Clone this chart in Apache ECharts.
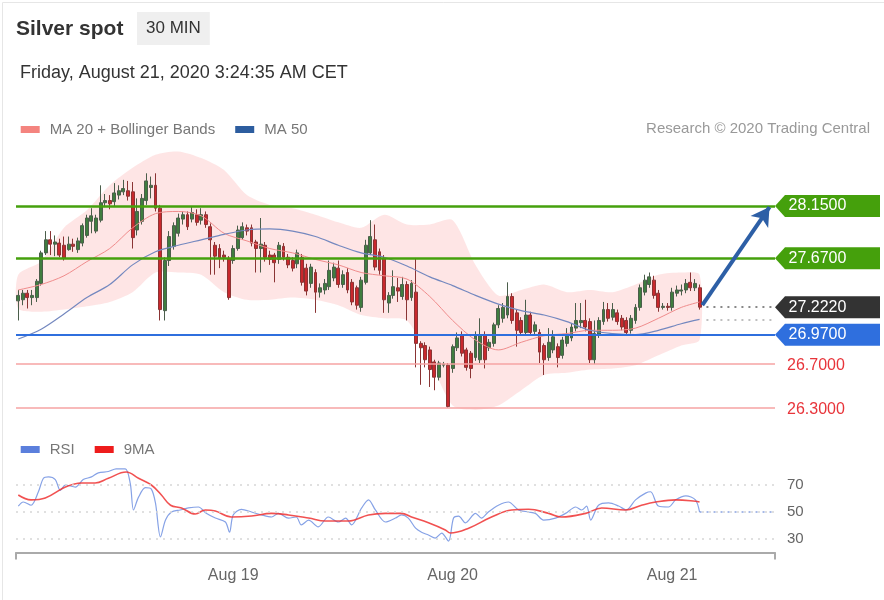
<!DOCTYPE html>
<html><head><meta charset="utf-8">
<script src="https://cdn.jsdelivr.net/npm/echarts@6/dist/echarts.min.js"></script>
<style>html,body{margin:0;padding:0;background:#fff}#c{width:884px;height:600px}</style>
</head><body><div id="c"></div>
<script>
// ---- candle data (30 min bars, Aug 18 00:30 -> Aug 21 03:00) ----
const opens=[27.28,27.29,27.35,27.31,27.31,27.44,27.72,27.84,27.80,27.81,27.79,27.75,27.80,27.75,27.81,27.88,28.01,27.92,28.02,28.18,28.20,28.19,28.25,28.28,28.29,28.28,27.93,28.01,28.20,28.32,28.34,28.13,27.19,27.65,27.78,27.90,28.03,28.07,28.03,28.07,28.02,28.07,27.96,27.79,27.76,27.70,27.67,27.65,27.76,27.86,27.95,27.95,27.82,27.76,27.79,27.70,27.70,27.66,27.78,27.68,27.65,27.62,27.68,27.58,27.44,27.54,27.36,27.38,27.41,27.49,27.58,27.43,27.54,27.45,27.40,27.22,27.45,27.72,27.84,27.73,27.67,27.26,27.33,27.40,27.32,27.43,27.31,27.36,26.89,26.87,26.83,26.72,26.58,26.69,26.69,26.66,26.85,26.97,26.83,26.80,26.76,26.74,26.97,26.85,26.89,27.06,27.12,27.15,27.32,27.17,27.10,26.99,27.15,27.00,26.99,26.87,26.76,26.83,26.86,26.78,26.89,26.94,27.03,27.08,27.10,27.09,26.74,26.97,27.09,27.20,27.13,27.17,27.12,27.10,27.01,27.10,27.22,27.36,27.43,27.47,27.35,27.22,27.23,27.22,27.35,27.37,27.38,27.45,27.40,27.40];
const closes=[27.33,27.35,27.31,27.33,27.46,27.72,27.84,27.80,27.82,27.70,27.67,27.80,27.78,27.83,27.97,28.04,28.06,28.04,28.18,28.20,28.17,28.27,28.29,28.31,28.24,27.86,28.10,28.22,28.38,28.34,28.13,27.20,27.65,27.87,27.97,28.04,28.07,27.96,28.09,28.00,28.07,27.98,27.84,27.69,27.67,27.68,27.31,27.76,27.93,27.96,27.92,27.81,27.76,27.80,27.68,27.66,27.63,27.79,27.68,27.61,27.58,27.72,27.45,27.37,27.59,27.36,27.40,27.44,27.56,27.59,27.43,27.52,27.38,27.27,27.24,27.47,27.79,27.87,27.59,27.56,27.29,27.33,27.41,27.37,27.43,27.29,27.44,26.89,26.85,26.74,26.65,26.58,26.71,26.70,26.31,26.86,26.94,26.80,26.67,26.66,26.97,26.97,26.74,26.90,27.06,27.21,27.22,27.32,27.10,27.01,26.99,27.15,26.99,27.06,26.81,26.74,26.90,26.95,26.76,26.92,26.97,27.04,27.10,27.10,27.04,26.74,26.98,27.10,27.20,27.12,27.20,27.09,27.04,26.99,27.12,27.22,27.40,27.47,27.50,27.33,27.22,27.23,27.22,27.36,27.38,27.38,27.44,27.40,27.44,27.222];
const lows=[27.10,27.24,27.21,27.24,27.27,27.42,27.70,27.70,27.69,27.68,27.65,27.74,27.73,27.72,27.78,27.86,27.90,27.90,28.00,28.14,28.12,28.15,28.21,28.25,28.20,27.76,27.88,27.98,28.16,28.22,28.10,27.10,27.10,27.60,27.75,27.87,27.98,27.93,28.00,27.97,27.98,27.95,27.52,27.52,27.58,27.64,27.29,27.62,27.74,27.84,27.88,27.78,27.54,27.54,27.64,27.61,27.45,27.62,27.65,27.58,27.55,27.58,27.42,27.33,27.40,27.17,27.31,27.34,27.38,27.46,27.40,27.40,27.35,27.24,27.20,27.18,27.43,27.70,27.56,27.52,27.17,27.17,27.30,27.27,27.29,27.10,27.28,26.67,26.51,26.67,26.49,26.46,26.55,26.67,26.30,26.62,26.82,26.77,26.64,26.57,26.73,26.71,26.66,26.82,26.86,27.03,27.08,27.12,27.07,26.86,26.96,26.96,26.96,26.96,26.71,26.60,26.73,26.80,26.67,26.75,26.86,26.91,27.00,27.03,27.00,26.71,26.70,26.94,27.06,27.09,27.10,27.06,27.01,26.96,26.98,27.07,27.19,27.33,27.40,27.30,27.18,27.20,27.19,27.19,27.32,27.33,27.35,27.37,27.37,27.20];
const highs=[27.38,27.38,27.38,27.38,27.48,27.74,27.92,27.92,27.88,27.85,27.87,27.87,27.85,27.86,27.99,28.07,28.13,28.07,28.34,28.26,28.25,28.36,28.34,28.39,28.38,28.37,28.22,28.26,28.45,28.42,28.45,28.16,27.68,27.92,28.00,28.08,28.10,28.10,28.14,28.12,28.13,28.10,27.99,27.82,27.80,27.74,27.69,27.79,27.97,28.00,27.98,27.98,27.84,28.04,27.82,27.74,27.72,27.82,27.81,27.71,27.68,27.75,27.71,27.62,27.62,27.57,27.44,27.48,27.65,27.63,27.65,27.56,27.58,27.48,27.42,27.50,27.84,28.02,27.98,27.76,27.70,27.36,27.56,27.49,27.50,27.46,27.47,27.67,26.91,26.90,26.86,26.74,26.73,26.72,26.71,26.88,26.99,27.00,26.85,26.82,27.00,27.12,27.00,26.93,27.08,27.24,27.26,27.45,27.35,27.20,27.13,27.29,27.18,27.09,27.02,26.89,27.03,27.01,26.89,26.95,27.03,27.07,27.26,27.26,27.29,27.12,27.10,27.13,27.27,27.26,27.26,27.20,27.15,27.13,27.15,27.25,27.43,27.52,27.54,27.51,27.38,27.26,27.26,27.40,27.42,27.43,27.48,27.54,27.48,27.43];

// ---- indicators (x = bar index) ----
const bandIdx=[0,5,10,15,20,25,30,35,40,45,50,55,60,65,70,75,80,85,90,95,100,105,110,115,120,125,130,135,140,145,149];
const ma20=[27.38,27.43,27.51,27.64,27.76,27.95,28.08,28.10,28.06,27.90,27.83,27.76,27.72,27.66,27.61,27.54,27.51,27.48,27.32,27.10,26.92,26.83,26.90,26.96,26.98,27.01,27.01,27.03,27.12,27.22,27.27];
const ma50=[26.93,27.02,27.16,27.31,27.43,27.61,27.73,27.79,27.84,27.89,27.93,27.94,27.92,27.87,27.79,27.72,27.68,27.60,27.50,27.42,27.33,27.25,27.19,27.15,27.09,27.01,26.98,26.97,27.01,27.07,27.11];
const bbUpper=[27.52,27.64,27.95,28.11,28.34,28.50,28.62,28.65,28.59,28.48,28.25,28.16,28.13,28.07,28.00,27.95,28.07,27.98,27.98,28.02,27.61,27.33,27.38,27.43,27.36,27.38,27.36,27.43,27.52,27.54,27.52];
const bbLower=[27.21,27.18,27.20,27.23,27.27,27.36,27.54,27.54,27.52,27.36,27.29,27.29,27.31,27.29,27.24,27.15,27.12,27.10,26.74,26.32,26.28,26.32,26.46,26.60,26.62,26.65,26.66,26.69,26.78,26.87,26.92];

const rsiIdx=[0,1.1,2.8,4.4,5.5,6.6,8.1,9.2,10.3,12.5,14.2,16,17.5,19.7,21.4,23.4,24.5,25.2,26.3,27.8,29.1,30,31.1,32.2,33.5,35.4,37.2,39.4,41.1,43.1,45.3,46.2,47,48.8,51,53.2,55.4,56.9,59.1,60.8,61.9,63.5,65.6,67.8,70,71.6,72.9,75.1,76.6,78.1,80.3,82.5,83.8,85.3,86.9,88.2,89.7,91.2,92.6,94.1,95.2,96.3,97.8,100,101.3,102.8,105,107.2,109.4,111.6,113.1,114.9,117.5,119.7,121.9,123.2,124.3,125.2,126.9,129.1,131.3,133,135,137.2,138.3,140,142.2,143.8,146,148.1,149];
const rsiVal=[54.4,57.4,55,65,75,76,74,66,70,68.5,74,76,79,80,82,82,71,51.5,61,68,67,56.7,31.5,44,50,51.5,53,53.7,49,45.5,42.6,35,47.8,52,50,47.8,46.3,49,45.5,46.3,40.4,44,39,46.3,42.6,45.5,40.4,53,59,51.5,42.6,45.5,47.8,45.5,38,35,33,30.7,34.4,28.5,45.5,47,42,49,45.5,50,55,57.4,51.5,50,49,44,45.5,49,53.7,51.5,54.4,44,55,56.7,54.4,51.5,59,64,65,54.4,53.7,59,62,59,50];
const rsiMaIdx=[0,2.8,5.9,10.3,13.8,16.8,19.7,23.6,26.3,29.1,31.3,33.3,35.7,38.7,40.9,43.1,46.6,51,55.4,59.1,63.5,67.2,72.2,76.6,80.3,83.8,86,89.7,93.4,94.5,98.5,103.5,107.9,111.6,116,118.8,124.1,127.6,132.8,136.3,139.4,143.8,148.1,149];
const rsiMaVal=[62.6,59,60.4,68.5,71.5,71.5,75,79.6,75,70,62.6,55,53,48.5,51.5,50.7,46.3,47,49,47.8,45.5,43.3,43.3,47.8,49,49,46.3,42,36.7,34.4,38,46.3,51.5,52,49,46.3,49,53,51.5,55,57.4,59,58,57.4];

// ---- levels / annotations ----
const resistLevels=[28.15,27.67];
const supportLevel=26.97;
const lowerLevels=[26.70,26.30];
const lastPrice=27.222;
const arrowFrom=[149.6,27.24], arrowTo=[164.3,28.14];
const rsiLevels=[30,50,70];
const tickIdx=[47,95,143];
const tickLabels=['Aug 19','Aug 20','Aug 21'];
const N_SLOTS=166;

const cats=Array.from({length:N_SLOTS},(_,i)=>String(i));
const candles=opens.map((o,i)=>[o,closes[i],lows[i],highs[i]]);
const pair=(xs,ys)=>xs.map((x,i)=>[x,ys[i]]);
const lastIdx=opens.length-1;
const F='"Liberation Sans", Arial, sans-serif';
const GREEN='#45a00c', BLUE='#2f6fde', DARK='#333333', RED='#e8343a', PINKLINE='#f6a3a3';
const tagPath='path://M0,11 L10,0 L105,0 L105,22 L10,22 Z';
function tag(v,color){
  return {coord:[N_SLOTS-0.5,v],value:v,itemStyle:{color:color},
    label:{show:true,position:'inside',formatter:v.toFixed(4),color:'#fff',fontSize:16,fontFamily:F,offset:[-10,0]}};
}

const chart=echarts.init(document.getElementById('c'),null,{renderer:'canvas'});
chart.setOption({
  animation:false,
  backgroundColor:'#fff',
  textStyle:{fontFamily:F},
  graphic:[
    {type:'rect',left:0,top:0,shape:{width:883,height:599},style:{fill:'none',stroke:'#e6e6e6',lineWidth:1},silent:true},
    {type:'text',left:16,top:19,style:{text:'Silver spot',font:'bold 21px "Liberation Sans"',fill:'#333'}},
    {type:'text',left:137,top:12,style:{text:'30 MIN',font:'17px "Liberation Sans"',fill:'#333',backgroundColor:'#efefef',padding:[8,9,8,9]}},
    {type:'text',left:20,top:64,style:{text:'Friday, August 21, 2020 3:24:35 AM CET',font:'18px "Liberation Sans"',fill:'#333'}},
    {type:'text',right:14,top:121.5,style:{text:'Research \u00a9 2020 Trading Central',font:'15px "Liberation Sans"',fill:'#999'}}
  ],
  legend:[
    {left:20.7,top:122,padding:0,itemWidth:19,itemHeight:7,itemGap:20,icon:'rect',
     textStyle:{color:'#777',fontSize:15,fontFamily:F,padding:[0,0,0,5]},
     data:[{name:'MA 20 + Bollinger Bands',itemStyle:{color:'#f4847f'}},{name:'MA 50',itemStyle:{color:'#2d5d9f'}}]},
    {left:20.7,top:442,padding:0,itemWidth:19,itemHeight:7,itemGap:20,icon:'rect',
     textStyle:{color:'#777',fontSize:15,fontFamily:F,padding:[0,0,0,5]},
     data:[{name:'RSI',itemStyle:{color:'#5b7fdc'}},{name:'9MA',itemStyle:{color:'#ee1c1c'}}]}
  ],
  grid:[
    {left:16,width:759,top:140.6,height:278},
    {left:16,width:759,top:458,height:94.5}
  ],
  xAxis:[
    {type:'category',gridIndex:0,data:cats,show:false,boundaryGap:true},
    {type:'value',gridIndex:0,min:-0.5,max:N_SLOTS-0.5,show:false},
    {type:'category',gridIndex:1,data:cats,boundaryGap:true,
     axisLine:{lineStyle:{color:'#aaa',width:2}},
     axisTick:{show:true,interval:(i)=>i===0,length:7,lineStyle:{color:'#aaa',width:2}},
     axisLabel:{interval:(i)=>tickIdx.includes(i),formatter:(v,i)=>{const k=tickIdx.indexOf(+v);return k>=0?tickLabels[k]:'';},color:'#666',fontSize:16,fontFamily:F,margin:15},
     splitLine:{show:false}},
    {type:'value',gridIndex:1,min:-0.5,max:N_SLOTS-0.5,show:false}
  ],
  yAxis:[
    {type:'value',gridIndex:0,min:26.2,max:28.75,show:false},
    {type:'value',gridIndex:1,min:20,max:90,show:false}
  ],
  series:[
    {type:'custom',xAxisIndex:1,yAxisIndex:0,silent:true,z:1,clip:false,
     data:bandIdx.map((x,i)=>[x,bbUpper[i],bbLower[i]]),
     encode:{x:0,y:[1,2]},
     renderItem:function(params,api){
       if(params.dataIndex!==0) return null;
       const up=bandIdx.map((x,i)=>api.coord([x,bbUpper[i]]));
       const lo=bandIdx.map((x,i)=>api.coord([x,bbLower[i]])).reverse();
       return {type:'polygon',shape:{points:up.concat(lo),smooth:0.25},style:{fill:'rgba(250,150,150,0.25)'}};
     }},
    {type:'line',xAxisIndex:1,yAxisIndex:0,data:[],z:2,silent:true,
     markLine:{silent:true,symbol:['none','none'],animation:false,
       data:[
         {yAxis:resistLevels[0],lineStyle:{color:GREEN,width:2.5,type:'solid'},label:{show:false}},
         {yAxis:resistLevels[1],lineStyle:{color:GREEN,width:2.5,type:'solid'},label:{show:false}},
         {yAxis:supportLevel,lineStyle:{color:BLUE,width:2,type:'solid'},label:{show:false}},
         {yAxis:lowerLevels[0],lineStyle:{color:PINKLINE,width:1.5,type:'solid'},
          label:{show:true,position:'end',formatter:lowerLevels[0].toFixed(4),color:RED,fontSize:16,fontFamily:F,distance:12,offset:[0,2]}},
         {yAxis:lowerLevels[1],lineStyle:{color:PINKLINE,width:1.5,type:'solid'},
          label:{show:true,position:'end',formatter:lowerLevels[1].toFixed(4),color:RED,fontSize:16,fontFamily:F,distance:12,offset:[0,2]}},
         [{coord:[lastIdx+1.5,lastPrice],lineStyle:{color:'#888',width:2,type:[2,5]},label:{show:false}},{coord:[N_SLOTS-0.5,lastPrice]}],
         [{coord:[lastIdx+1.5,ma50[ma50.length-1]],lineStyle:{color:'#aaa',width:1.5,type:[2,5]},label:{show:false}},{coord:[N_SLOTS-0.5,ma50[ma50.length-1]]}]
       ]},
     markPoint:{silent:true,symbol:tagPath,symbolSize:[105,22],symbolOffset:['50%',0],animation:false,
       data:[tag(resistLevels[0],GREEN),tag(resistLevels[1],GREEN),tag(lastPrice,DARK),tag(supportLevel,BLUE)]}
    },
    {type:'candlestick',xAxisIndex:0,yAxisIndex:0,data:candles,barWidth:3.4,z:3,
     itemStyle:{color:'#3f7d3f',color0:'#c9282d',borderColor:'#4b5e4b',borderColor0:'#8a3434',borderWidth:1}},
    {name:'MA 20 + Bollinger Bands',type:'line',xAxisIndex:1,yAxisIndex:0,data:pair(bandIdx,ma20),symbol:'none',smooth:0.3,
     lineStyle:{color:'#f08c8c',width:1},itemStyle:{color:'#f4847f'},z:4},
    {name:'MA 50',type:'line',xAxisIndex:1,yAxisIndex:0,data:pair(bandIdx,ma50),symbol:'none',smooth:0.3,
     lineStyle:{color:'#7488bf',width:1.2},itemStyle:{color:'#2d5d9f'},z:4},
    {type:'line',xAxisIndex:1,yAxisIndex:0,data:[],z:6,silent:true,
     markLine:{silent:true,animation:false,
       data:[[{coord:arrowFrom,symbol:'none',lineStyle:{color:'#2d5fa6',width:4,type:'solid'},label:{show:false}},
              {coord:arrowTo,symbol:'arrow',symbolSize:[16,18]}]]}},
    {name:'RSI',type:'line',xAxisIndex:3,yAxisIndex:1,data:pair(rsiIdx,rsiVal),symbol:'none',smooth:0.3,
     lineStyle:{color:'#86a2e6',width:1.2},itemStyle:{color:'#5b7fdc'},z:3,
     markLine:{silent:true,symbol:['none','none'],animation:false,
       data:rsiLevels.map(v=>({yAxis:v,lineStyle:{color:'#d6d6d6',width:1.5,type:[2,5]},
          label:{show:true,position:'end',formatter:String(v),color:'#666',fontSize:15,fontFamily:F,distance:12}}))
         .concat([[{coord:[lastIdx,rsiVal[rsiVal.length-1]],lineStyle:{color:'#8aa3e0',width:1.5,type:[2,5]},label:{show:false}},
                   {coord:[N_SLOTS-0.5,rsiVal[rsiVal.length-1]]}]])}},
    {name:'9MA',type:'line',xAxisIndex:3,yAxisIndex:1,data:pair(rsiMaIdx,rsiMaVal),symbol:'none',smooth:0.4,
     lineStyle:{color:'rgba(238,50,50,0.85)',width:1.6},itemStyle:{color:'#ee1c1c'},z:4}
  ]
});
</script></body></html>
